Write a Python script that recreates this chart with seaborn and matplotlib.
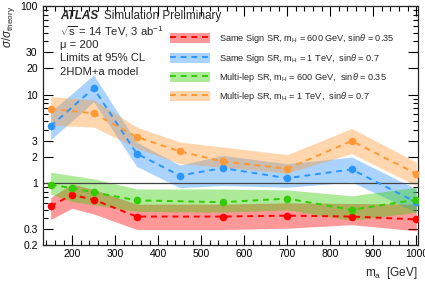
import numpy as np
import pandas as pd
import seaborn as sns
import matplotlib.pyplot as plt
from matplotlib.patches import Patch
from matplotlib.lines import Line2D
from matplotlib.ticker import FixedLocator, NullFormatter, FixedFormatter, MultipleLocator

# --- data ---
ma_ss600 = [150, 200, 250, 350, 550, 700, 850, 1000]
ss600 = [0.55, 0.74, 0.65, 0.42, 0.42, 0.43, 0.42, 0.39]
ss600_lo = [0.39, 0.52, 0.45, 0.30, 0.30, 0.31, 0.34, 0.29]
ss600_hi = [0.69, 0.98, 0.85, 0.58, 0.58, 0.60, 0.59, 0.58]

ma_ss1000 = [150, 250, 350, 450, 550, 700, 850, 1000]
ss1000 = [4.4, 11.8, 2.16, 1.22, 1.48, 1.14, 1.43, 0.61]
ss1000_lo = [3.1, 8.3, 1.55, 0.89, 0.94, 0.90, 1.03, 0.47]
ss1000_hi = [6.4, 16.7, 2.9, 1.6, 2.06, 1.66, 1.97, 0.86]

ma_ml600 = [150, 200, 250, 350, 550, 700, 850, 1000]
ml600 = [0.96, 0.88, 0.79, 0.64, 0.61, 0.67, 0.50, 0.65]
ml600_lo = [0.75, 0.62, 0.57, 0.48, 0.47, 0.50, 0.38, 0.47]
ml600_hi = [1.33, 1.22, 1.12, 0.86, 0.86, 0.84, 0.72, 0.90]

ma_ml1000 = [150, 250, 350, 450, 550, 700, 850, 1000]
ml1000 = [6.9, 6.15, 3.33, 2.29, 1.76, 1.46, 3.0, 1.28]
ml1000_lo = [4.5, 4.3, 2.5, 1.66, 1.52, 1.3, 2.16, 0.94]
ml1000_hi = [9.5, 8.7, 4.3, 2.92, 2.56, 2.1, 4.15, 1.73]

labels = [r'Same Sign SR, m$_{\mathregular{H}}$ = 600 GeV, sin$\theta$ = 0.35',
          r'Same Sign SR, m$_{\mathregular{H}}$ = 1 TeV,  sin$\theta$ = 0.7',
          r'Multi-lep SR, m$_{\mathregular{H}}$ = 600 GeV,  sin$\theta$ = 0.35',
          r'Multi-lep SR, m$_{\mathregular{H}}$ = 1 TeV,  sin$\theta$ = 0.7']
colors = ['#ff0000', '#2b95ff', '#33cc00', '#ff9933']

series = [
    (ma_ss600, ss600, ss600_lo, ss600_hi),
    (ma_ss1000, ss1000, ss1000_lo, ss1000_hi),
    (ma_ml600, ml600, ml600_lo, ml600_hi),
    (ma_ml1000, ml1000, ml1000_lo, ml1000_hi),
]

sns.set_style('ticks')
plt.rcParams['font.family'] = ['Liberation Sans', 'DejaVu Sans']
plt.rcParams['mathtext.fontset'] = 'custom'
plt.rcParams['mathtext.rm'] = 'Liberation Sans'
plt.rcParams['mathtext.it'] = 'Liberation Sans:italic'

fig = plt.figure(figsize=(4.25, 2.88), dpi=100)
ax = fig.add_axes([0.1, 0.149, 0.8835, 0.83])

handles = []
for (x, y, lo, hi), c in zip(series, colors):
    ax.fill_between(x, lo, hi, color=c, alpha=0.4, lw=0, zorder=1)
for (x, y, lo, hi), c in zip(series, colors):
    df = pd.DataFrame({'ma': x, 'val': y})
    sns.lineplot(data=df, x='ma', y='val', ax=ax, color=c, linestyle='--',
                 linewidth=1.4, marker='o', markersize=5.5, markeredgewidth=0,
                 zorder=3)
    ax.lines[-1].set_linestyle((0, (3, 2.5)))
    handles.append((Patch(facecolor=c, alpha=0.4, lw=0),
                    Line2D([], [], color=c, linestyle=(0, (3, 2.5)), lw=1.4)))

ax.axhline(1.0, color='#444444', lw=0.9, zorder=2)

ax.set_yscale('log')
ax.set_xlim(131, 1004)
ax.set_ylim(0.2, 100)

major_y = [0.2, 0.3, 1, 2, 3, 10, 20, 30, 100]
ax.yaxis.set_major_locator(FixedLocator(major_y))
ax.yaxis.set_major_formatter(FixedFormatter(['0.2', '0.3', '1', '2', '3', '10', '20', '30', '100']))
minor_y = [v * d for d in (0.1, 1, 10) for v in range(2, 10)]
minor_y = [m for m in minor_y if m not in major_y and 0.2 <= m <= 100]
ax.yaxis.set_minor_locator(FixedLocator(minor_y))
ax.yaxis.set_minor_formatter(NullFormatter())
ax.xaxis.set_major_locator(MultipleLocator(100))
ax.xaxis.set_minor_locator(MultipleLocator(20))

ax.tick_params(which='both', direction='in', top=True, right=True, labelsize=7.5,
               width=0.8, colors='black')
ax.tick_params(which='major', length=7)
ax.tick_params(which='minor', length=3.5)
ax.tick_params(axis='x', pad=3)
for s in ax.spines.values():
    s.set_linewidth(0.9)

ax.set_xlabel(r'm$_{\mathregular{a}}$  [GeV]', loc='right', fontsize=8.5)
ax.set_ylabel(r'$\sigma/\sigma_{\mathregular{theory}}$', loc='top', fontsize=8.5, labelpad=2)

ax.text(0.047, 0.958, 'ATLAS', transform=ax.transAxes, fontsize=8.5,
        fontweight='bold', fontstyle='italic', va='center')
ax.text(0.163, 0.958, 'Simulation Preliminary', transform=ax.transAxes,
        fontsize=8.5, va='center')
info = [r'$\sqrt{\mathregular{s}}$ = 14 TeV, 3 ab$^{\mathregular{-1}}$', 'μ = 200',
        'Limits at 95% CL', '2HDM+a model']
for t, yy in zip(info, [0.892, 0.836, 0.782, 0.724]):
    ax.text(0.047, yy, t, transform=ax.transAxes, fontsize=8.1, va='center')

ax.legend(handles, labels, loc='upper left', bbox_to_anchor=(0.33, 0.905),
          frameon=False, fontsize=6.6, handlelength=4.4, handleheight=1.3,
          labelspacing=0.68, handletextpad=0.9, borderaxespad=0)

fig.savefig('out.png', dpi=100)
